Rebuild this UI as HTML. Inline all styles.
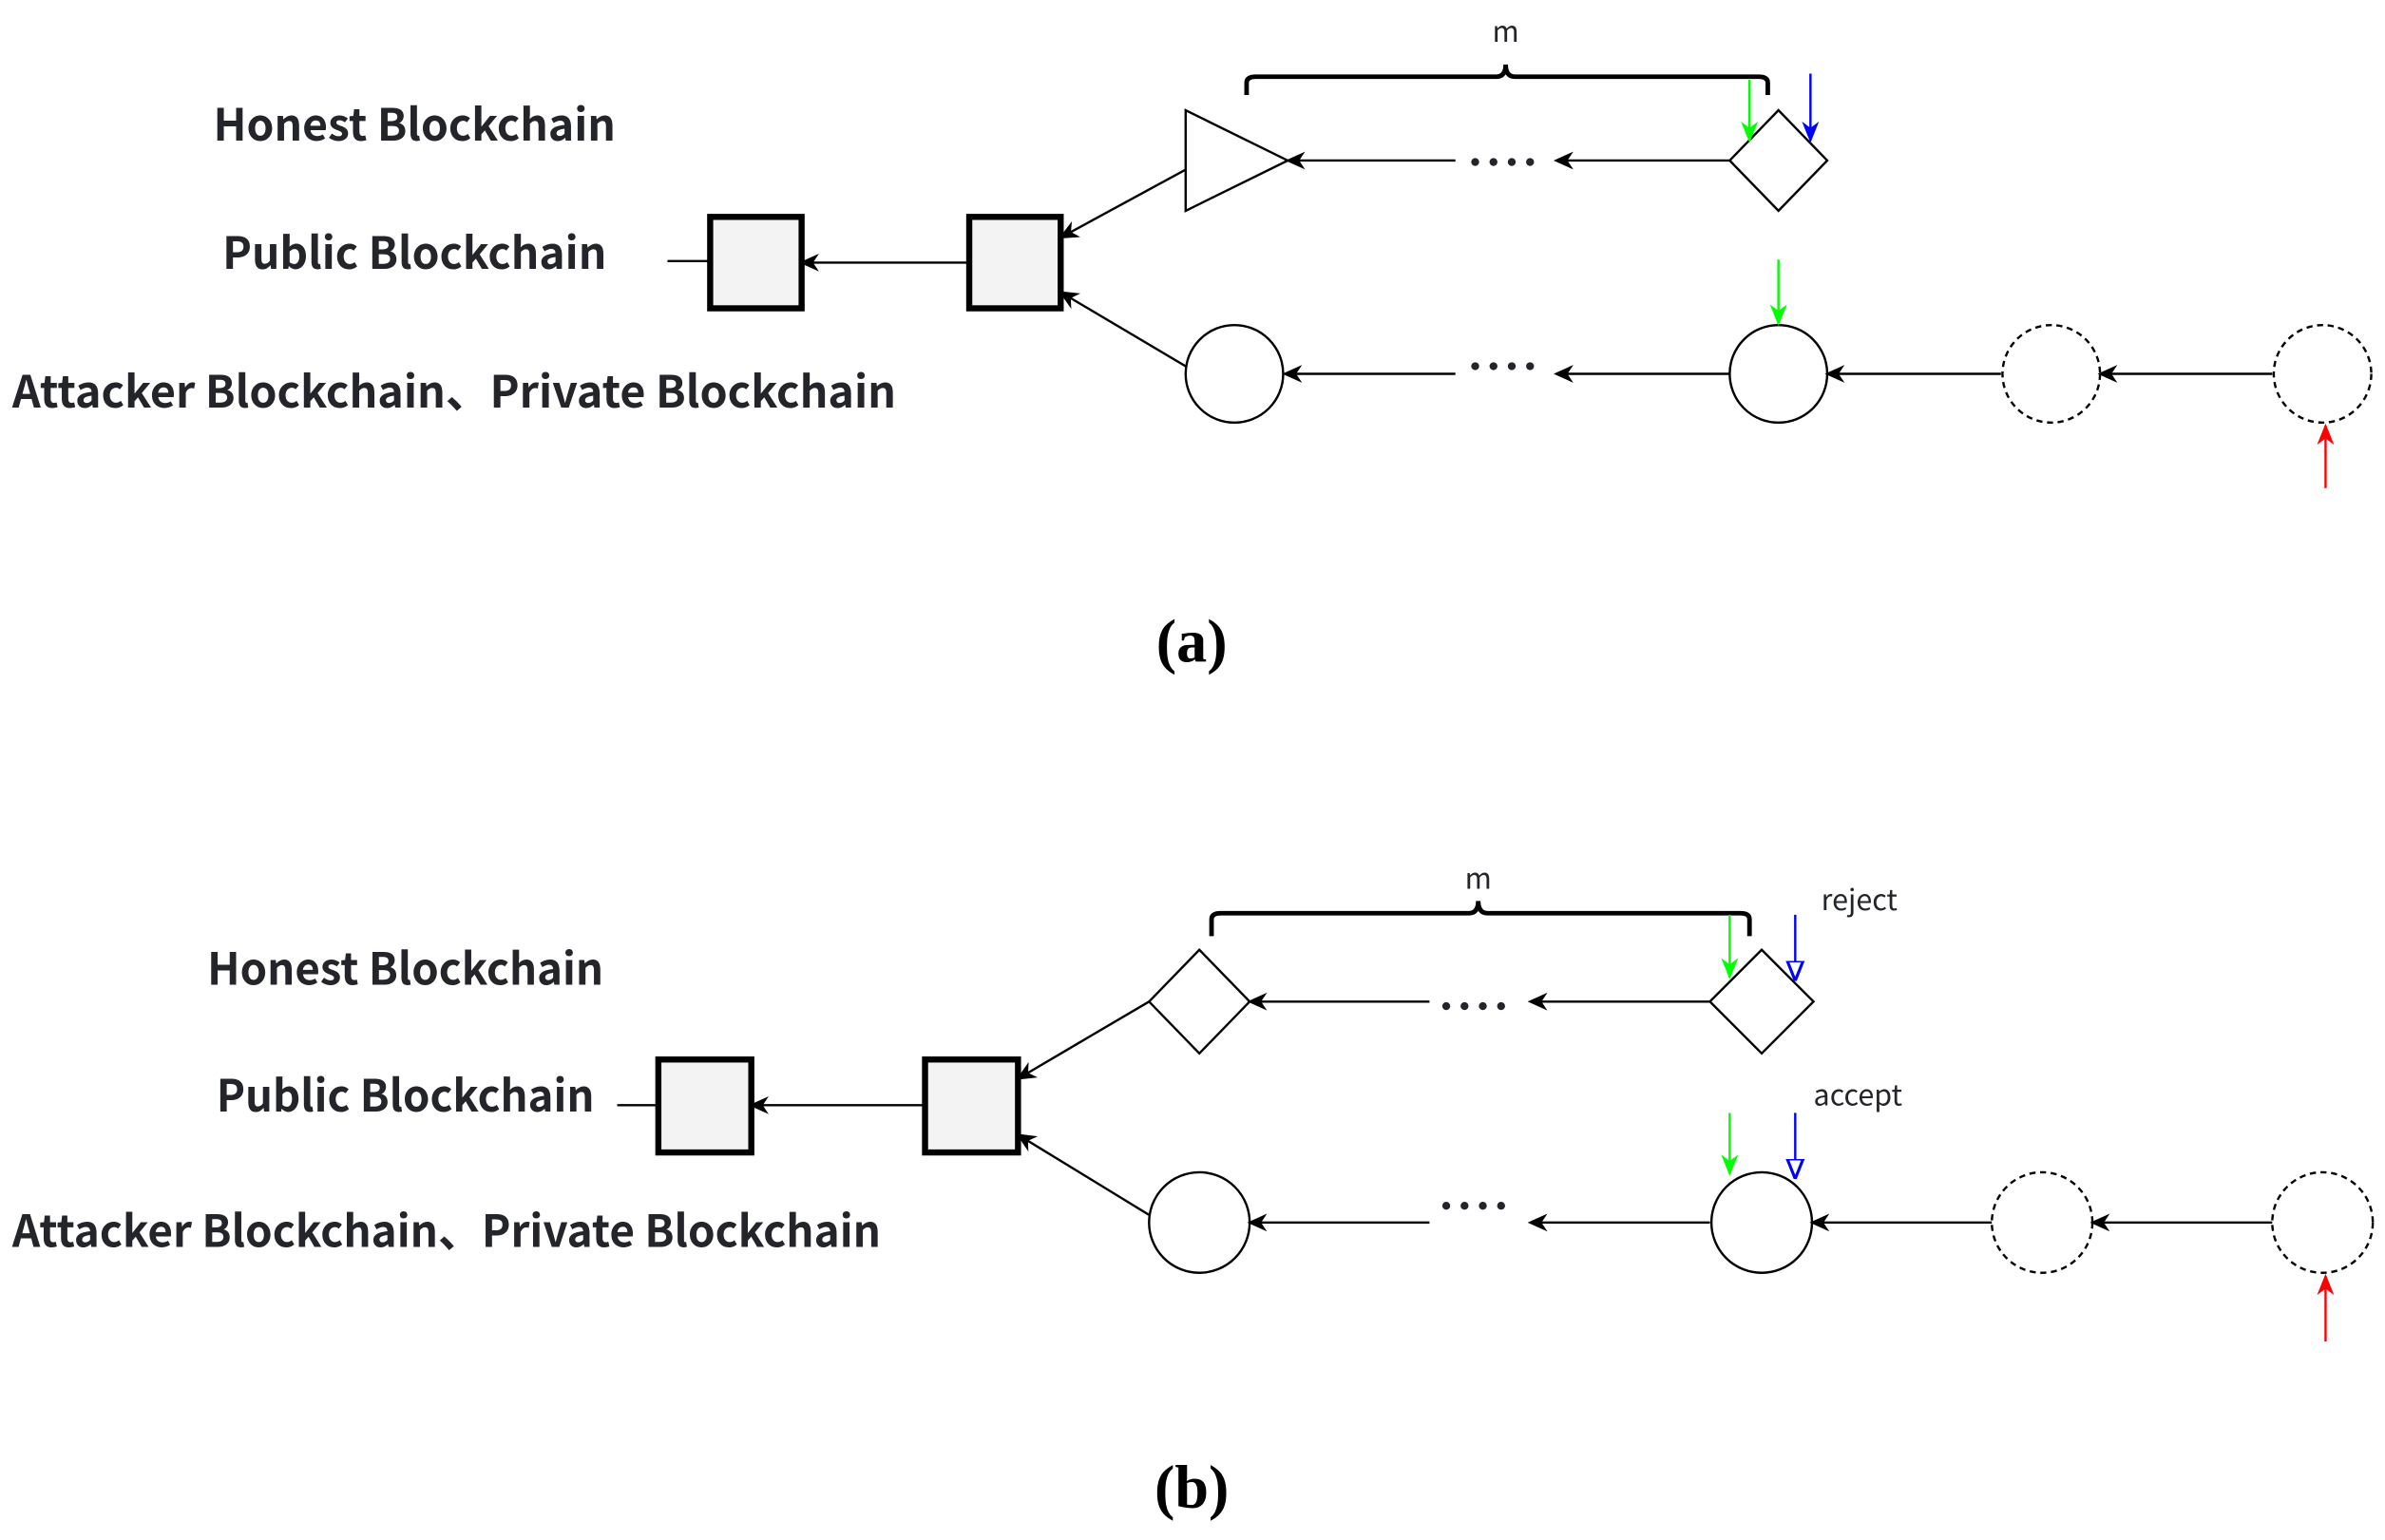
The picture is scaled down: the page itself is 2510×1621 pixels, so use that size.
<!DOCTYPE html>
<html><head><meta charset="utf-8"><style>
html,body{margin:0;padding:0;background:#fff;}
svg{display:block;}
.t{font-family:"Noto Sans CJK SC","Liberation Sans",sans-serif;font-weight:bold;fill:#23252b;font-size:29px;}
.s{font-family:"Noto Sans CJK SC","Liberation Sans",sans-serif;fill:#23252b;font-size:19px;}
.c{font-family:"Liberation Serif",serif;font-weight:bold;fill:#000;font-size:40px;}
</style></head><body>
<svg width="2510" height="1621" viewBox="0 0 1565 1010" xmlns="http://www.w3.org/2000/svg">
<defs>
<marker id="ab" viewBox="0 0 10 10" refX="8" refY="5" markerWidth="13" markerHeight="13" orient="auto-start-reverse" markerUnits="userSpaceOnUse"><path d="M0,0.5 L10,5 L0,9.5 L3,5 z" fill="#000"/></marker>
<marker id="ag" viewBox="0 0 10 10" refX="9" refY="5" markerWidth="14" markerHeight="14" orient="auto" markerUnits="userSpaceOnUse"><path d="M0,1 L10,5 L0,9 L3,5 z" fill="#00ff00"/></marker>
<marker id="abl" viewBox="0 0 10 10" refX="9" refY="5" markerWidth="14" markerHeight="14" orient="auto" markerUnits="userSpaceOnUse"><path d="M0,1 L10,5 L0,9 L3,5 z" fill="#0000ff"/></marker>
<marker id="abo" viewBox="0 0 10 10" refX="9" refY="5" markerWidth="13" markerHeight="13" orient="auto" markerUnits="userSpaceOnUse"><path d="M0,1 L10,5 L0,9 z" fill="#fff" stroke="#0000ff" stroke-width="1.5"/></marker>
<marker id="ar" viewBox="0 0 10 10" refX="9" refY="5" markerWidth="14" markerHeight="14" orient="auto" markerUnits="userSpaceOnUse"><path d="M0,1 L10,5 L0,9 L3,5 z" fill="#ff0000"/></marker>
</defs>
<g stroke="#000" stroke-width="1.5" fill="none">
<!-- (a) -->
<line x1="438" y1="171" x2="466" y2="171"/>
<rect x="466" y="142" width="60" height="60" fill="#f3f3f3" stroke-width="4"/>
<rect x="636" y="142" width="60" height="60" fill="#f3f3f3" stroke-width="4"/>
<line x1="636" y1="172" x2="527" y2="172" marker-end="url(#ab)"/>
<polygon points="778,72 778,138 845,105" fill="#fff"/>
<line x1="778" y1="111" x2="697" y2="155" marker-end="url(#ab)"/>
<line x1="778" y1="240" x2="697" y2="192" marker-end="url(#ab)"/>
<line x1="955" y1="105" x2="846" y2="105" marker-end="url(#ab)"/>
<line x1="1135" y1="105" x2="1022" y2="105" marker-end="url(#ab)"/>
<polygon points="1135,105 1167,72 1199,105 1167,138" fill="#fff"/>
<path d="M818,62 V54 Q818,50 824,50 H982 Q988,50 988,42 Q988,50 994,50 H1154 Q1160,50 1160,54 V62" stroke-width="3"/>
<circle cx="810" cy="245" r="32"/>
<line x1="955" y1="245" x2="844" y2="245" marker-end="url(#ab)"/>
<line x1="1135" y1="245" x2="1022" y2="245" marker-end="url(#ab)"/>
<circle cx="1167" cy="245" r="32"/>
<circle cx="1346" cy="245" r="32" stroke-dasharray="4,3"/>
<line x1="1313" y1="245" x2="1200" y2="245" marker-end="url(#ab)"/>
<circle cx="1524" cy="245" r="32" stroke-dasharray="4,3"/>
<line x1="1491" y1="245" x2="1379" y2="245" marker-end="url(#ab)"/>
<!-- (b) -->
<line x1="405" y1="725" x2="432" y2="725"/>
<rect x="432" y="695" width="61" height="61" fill="#f3f3f3" stroke-width="4"/>
<rect x="607" y="695" width="61" height="61" fill="#f3f3f3" stroke-width="4"/>
<line x1="607" y1="725" x2="494" y2="725" marker-end="url(#ab)"/>
<polygon points="754,657 787,623 820,657 787,691" fill="#fff"/>
<line x1="754" y1="657" x2="669" y2="707" marker-end="url(#ab)"/>
<line x1="754" y1="797" x2="669" y2="745" marker-end="url(#ab)"/>
<line x1="938" y1="657" x2="821" y2="657" marker-end="url(#ab)"/>
<line x1="1122" y1="657" x2="1005" y2="657" marker-end="url(#ab)"/>
<polygon points="1122,657 1156,623 1190,657 1156,691" fill="#fff"/>
<path d="M795,614 V603 Q795,599 801,599 H964 Q970,599 970,591 Q970,599 976,599 H1142 Q1148,599 1148,603 V614" stroke-width="3"/>
<circle cx="787" cy="802" r="33"/>
<line x1="938" y1="802" x2="821" y2="802" marker-end="url(#ab)"/>
<line x1="1122" y1="802" x2="1005" y2="802" marker-end="url(#ab)"/>
<circle cx="1156" cy="802" r="33"/>
<circle cx="1340" cy="802" r="33" stroke-dasharray="4,3"/>
<line x1="1307" y1="802" x2="1190" y2="802" marker-end="url(#ab)"/>
<circle cx="1524" cy="802" r="33" stroke-dasharray="4,3"/>
<line x1="1491" y1="802" x2="1374" y2="802" marker-end="url(#ab)"/>
</g>
<g stroke-width="1.5">
<line x1="1148" y1="52" x2="1148" y2="92" stroke="#00ff00" marker-end="url(#ag)"/>
<line x1="1188" y1="48" x2="1188" y2="92" stroke="#0000ff" marker-end="url(#abl)"/>
<line x1="1167" y1="170" x2="1167" y2="212" stroke="#00ff00" marker-end="url(#ag)"/>
<line x1="1526" y1="320" x2="1526" y2="279" stroke="#ff0000" marker-end="url(#ar)"/>
<line x1="1135" y1="600" x2="1135" y2="641" stroke="#00ff00" marker-end="url(#ag)"/>
<line x1="1178" y1="600" x2="1178" y2="642" stroke="#0000ff" marker-end="url(#abo)"/>
<line x1="1135" y1="730" x2="1135" y2="770" stroke="#00ff00" marker-end="url(#ag)"/>
<line x1="1178" y1="730" x2="1178" y2="772" stroke="#0000ff" marker-end="url(#abo)"/>
<line x1="1526" y1="880" x2="1526" y2="837" stroke="#ff0000" marker-end="url(#ar)"/>
</g>
<g fill="#23252b">
<circle cx="968" cy="106" r="2.6"/><circle cx="980" cy="106" r="2.6"/><circle cx="992" cy="106" r="2.6"/><circle cx="1004" cy="106" r="2.6"/>
<circle cx="968" cy="240" r="2.6"/><circle cx="980" cy="240" r="2.6"/><circle cx="992" cy="240" r="2.6"/><circle cx="1004" cy="240" r="2.6"/>
<circle cx="949" cy="660" r="2.6"/><circle cx="961" cy="660" r="2.6"/><circle cx="973" cy="660" r="2.6"/><circle cx="985" cy="660" r="2.6"/>
<circle cx="949" cy="791" r="2.6"/><circle cx="961" cy="791" r="2.6"/><circle cx="973" cy="791" r="2.6"/><circle cx="985" cy="791" r="2.6"/>
</g>
<text class="t" x="272" y="92" text-anchor="middle" textLength="264" lengthAdjust="spacingAndGlyphs">Honest Blockchain</text>
<text class="t" x="272" y="176" text-anchor="middle" textLength="252" lengthAdjust="spacingAndGlyphs">Public Blockchain</text>
<text class="t" x="8" y="267" textLength="580" lengthAdjust="spacingAndGlyphs">Attacker Blockchain、Private Blockchain</text>
<text class="s" x="988" y="27" text-anchor="middle">m</text>
<text class="c" x="782" y="434" text-anchor="middle">(a)</text>
<text class="t" x="266" y="646" text-anchor="middle" textLength="260" lengthAdjust="spacingAndGlyphs">Honest Blockchain</text>
<text class="t" x="266" y="729" text-anchor="middle" textLength="248" lengthAdjust="spacingAndGlyphs">Public Blockchain</text>
<text class="t" x="8" y="818" textLength="570" lengthAdjust="spacingAndGlyphs">Attacker Blockchain、Private Blockchain</text>
<text class="s" x="970" y="583" text-anchor="middle">m</text>
<text class="s" x="1195" y="597">reject</text>
<text class="s" x="1190" y="725">accept</text>
<text class="c" x="782" y="989" text-anchor="middle">(b)</text>
</svg>
</body></html>
